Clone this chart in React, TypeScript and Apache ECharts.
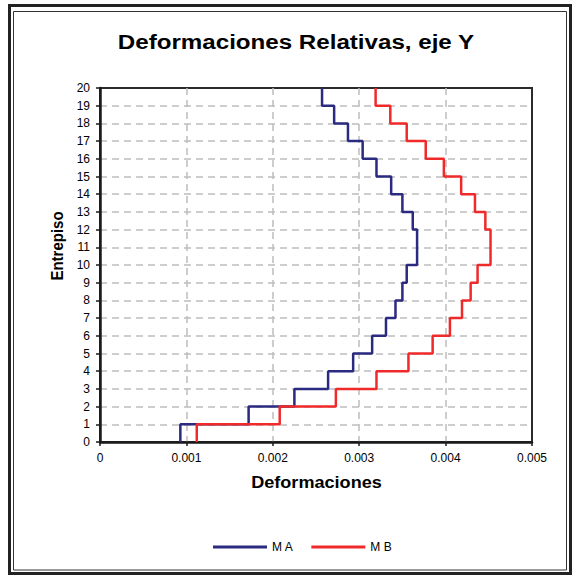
import React, { useEffect, useRef } from "react";
import * as echarts from "echarts";

const floors: number[] = [1, 2, 3, 4, 5, 6, 7, 8, 9, 10, 11, 12, 13, 14, 15, 16, 17, 18, 19, 20];
const seriesNames: string[] = ["M A", "M B"];
const driftMA: number[] = [
  0.00093, 0.00172, 0.00225, 0.00264, 0.00293, 0.00315, 0.00331, 0.00342, 0.0035, 0.00355,
  0.00367, 0.00367, 0.00362, 0.0035, 0.00337, 0.0032, 0.00304, 0.00287, 0.00271, 0.00257,
];
const driftMB: number[] = [
  0.00112, 0.00208, 0.00273, 0.0032, 0.00357, 0.00385, 0.00405, 0.00419, 0.00429, 0.00437,
  0.00452, 0.00452, 0.00446, 0.00434, 0.00418, 0.00398, 0.00377, 0.00355, 0.00336, 0.00319,
];
const xTicks: number[] = [0, 0.001, 0.002, 0.003, 0.004, 0.005];
const yTicks: number[] = [0, 2, 4, 6, 8, 10, 12, 14, 16, 18, 20];

const FONT = "'Liberation Sans', Arial, sans-serif";

// step profile: each storey's value is held from its lower level to its upper level
function stepPoints(vals: number[]): [number, number][] {
  const pts: [number, number][] = [];
  vals.forEach((v, i) => {
    pts.push([v, floors[i] - 1]);
    pts.push([v, floors[i]]);
  });
  return pts;
}

export default function App() {
  const ref = useRef<HTMLDivElement>(null);
  useEffect(() => {
    if (!ref.current) return;
    const chart = echarts.init(ref.current, undefined, { renderer: "svg" });
    const gridDash = { type: [7, 5] as any, color: "#bdbdbd", width: 1.5 };
    chart.setOption({
      animation: false,
      backgroundColor: "#ffffff",
      grid: {
        left: 100,
        right: 42,
        top: 88,
        bottom: 134,
        show: true,
        borderColor: "#2b2b2b",
        borderWidth: 2,
        backgroundColor: "transparent",
      },
      legend: {
        data: seriesNames,
        left: 208,
        top: 536,
        icon: "rect",
        itemWidth: 54,
        itemHeight: 3,
        itemGap: 18,
        textStyle: { fontFamily: FONT, fontSize: 12, color: "#000" },
      },
      xAxis: {
        type: "value",
        min: xTicks[0],
        max: xTicks[xTicks.length - 1],
        interval: xTicks[1] - xTicks[0],
        axisLine: { show: true, lineStyle: { color: "#1a1a1a", width: 2.5 } },
        axisTick: { show: true, length: 4, lineStyle: { color: "#1a1a1a", width: 1.5 } },
        axisLabel: { fontFamily: FONT, fontSize: 12, color: "#000", margin: 10 },
        splitLine: { show: true, showMinLine: false, showMaxLine: false, lineStyle: gridDash },
      },
      yAxis: {
        type: "value",
        min: yTicks[0],
        max: yTicks[yTicks.length - 1],
        interval: 1,
        axisLine: { show: true, lineStyle: { color: "#1a1a1a", width: 2.5 } },
        axisTick: { show: true, length: 4, lineStyle: { color: "#1a1a1a", width: 1.5 } },
        axisLabel: { fontFamily: FONT, fontSize: 12, color: "#000", margin: 10 },
        splitLine: { show: true, showMinLine: false, showMaxLine: false, lineStyle: gridDash },
      },
      series: [
        {
          name: seriesNames[0],
          type: "line",
          data: stepPoints(driftMA),
          symbol: "none",
          lineStyle: { color: "#2a2a80", width: 2.5 },
          itemStyle: { color: "#2a2a80" },
          z: 3,
        },
        {
          name: seriesNames[1],
          type: "line",
          data: stepPoints(driftMB),
          symbol: "none",
          lineStyle: { color: "#f02a2a", width: 2.5 },
          itemStyle: { color: "#f02a2a" },
          z: 3,
        },
      ],
      graphic: [
        {
          type: "rect",
          shape: { x: 9.5, y: 5.5, width: 561, height: 568 },
          style: { fill: "none", stroke: "#222", lineWidth: 3 },
          silent: true,
        },
        {
          type: "rect",
          shape: { x: 13.5, y: 11.5, width: 553, height: 558.5 },
          style: { fill: "none", stroke: "#333", lineWidth: 1 },
          silent: true,
        },
        {
          type: "text",
          x: 296,
          y: 42,
          scaleX: 1.15,
          style: {
            text: "Deformaciones Relativas, eje Y",
            font: "bold 21px " + FONT,
            fill: "#000",
            align: "center",
            verticalAlign: "middle",
            textAlign: "center",
            textVerticalAlign: "middle",
          },
        },
        {
          type: "text",
          x: 316.5,
          y: 483,
          scaleX: 1.13,
          style: {
            text: "Deformaciones",
            font: "bold 16px " + FONT,
            fill: "#000",
            align: "center",
            verticalAlign: "middle",
            textAlign: "center",
            textVerticalAlign: "middle",
          },
        },
        {
          type: "text",
          x: 57,
          y: 246,
          rotation: Math.PI / 2,
          scaleY: 1.12,
          style: {
            text: "Entrepiso",
            font: "bold 15px " + FONT,
            fill: "#000",
            align: "center",
            verticalAlign: "middle",
            textAlign: "center",
            textVerticalAlign: "middle",
          },
        },
      ],
    });
    return () => chart.dispose();
  }, []);
  return (
    <div
      ref={ref}
      style={{ position: "fixed", left: 0, top: 0, width: 574, height: 576, background: "#fff" }}
    />
  );
}
